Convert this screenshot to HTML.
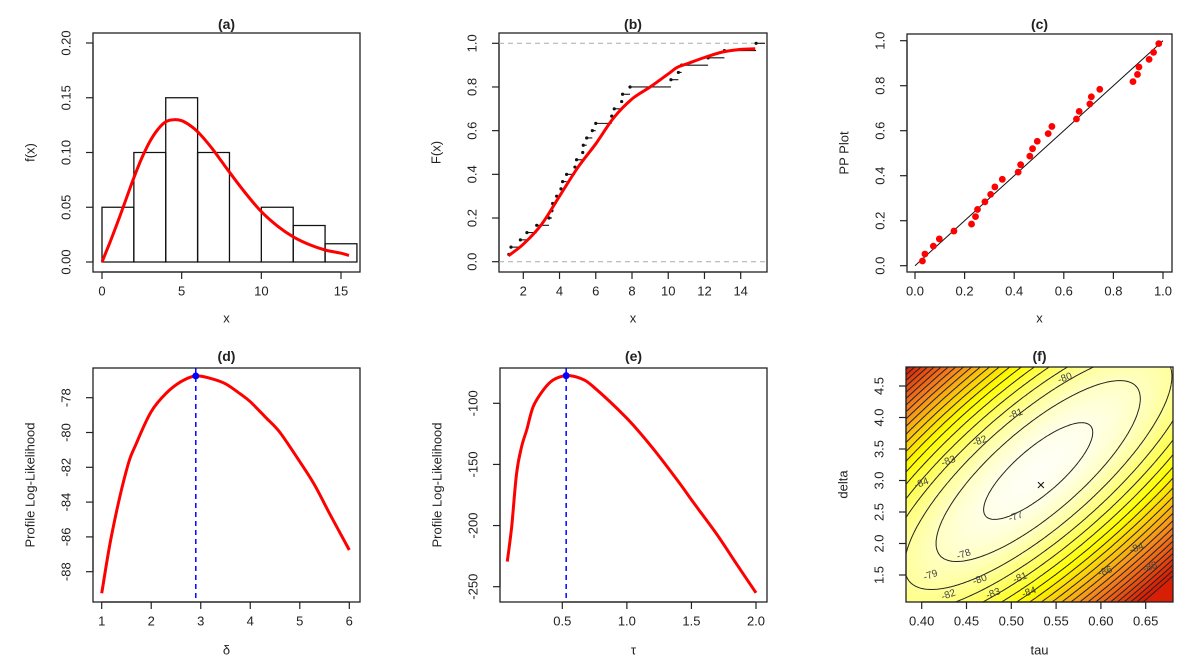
<!DOCTYPE html>
<html><head><meta charset="utf-8">
<style>
body{margin:0;background:#fff;width:1198px;height:669px;overflow:hidden;position:relative;font-family:"Liberation Sans",sans-serif;}
#heat{position:absolute;left:906px;top:367px;}
#chart{position:absolute;left:0;top:0;}
</style></head>
<body>
<canvas id="heat" width="267" height="235"></canvas>
<svg id="chart" width="1198" height="669"></svg>
<script>
// ---- data (a)
const histEdges=[0,2,4,6,8,10,12,14,16];
const histDens=[0.05,0.10,0.15,0.10,0,0.05,0.0333,0.0167];
const pdfX=[0,0.5,1,1.5,2,2.5,3,3.5,4,4.5,5,5.5,6,6.5,7,7.5,8,9,10,11,12,13,14,15,15.5];
const pdfY=[0,0.018,0.037,0.057,0.077,0.095,0.11,0.121,0.128,0.13,0.129,0.125,0.119,0.111,0.102,0.092,0.082,0.063,0.046,0.033,0.023,0.016,0.011,0.008,0.006];
// ---- data (b)
const ecdfX=[1.2,1.32,1.84,2.2,2.74,3.42,3.58,3.62,3.84,4.08,4.17,4.39,4.85,4.94,5.28,5.31,5.5,5.81,6.0,6.88,7.02,7.43,7.48,7.89,10.15,10.56,10.74,12.2,13.1,14.85];
const cdfX=[1.17,2,3,4,5,6,7,8,9,10,10.5,11,12,13,14,14.8];
const cdfY=[0.027,0.08,0.17,0.3,0.43,0.54,0.66,0.745,0.8,0.86,0.89,0.905,0.935,0.96,0.972,0.975];
// ---- data (c)
const ppX=[.03,.04,.074,.098,.157,.228,.244,.252,.282,.305,.322,.352,.416,.426,.463,.474,.493,.537,.552,.651,.662,.705,.711,.745,.879,.897,.903,.944,.962,.983];
const ppY=[.021,.052,.087,.119,.154,.185,.218,.25,.284,.317,.35,.384,.416,.449,.487,.52,.553,.587,.619,.652,.686,.719,.751,.784,.818,.85,.883,.917,.948,.987];
// ---- data (d)
const dX=[1,1.2,1.5,1.7,2,2.3,2.6,2.9,3.2,3.5,3.8,4,4.3,4.6,5,5.3,5.6,6];
const dY=[-89.24,-85.9,-82.16,-80.62,-78.8,-77.75,-77.08,-76.75,-76.89,-77.2,-77.79,-78.23,-79.1,-80.0,-81.68,-83.02,-84.65,-86.75];
const dMax=[2.9,-76.75];
// ---- data (e)
const eX=[0.074,0.108,0.146,0.185,0.224,0.275,0.353,0.43,0.526,0.637,0.74,1.0,1.18,1.39,1.52,1.70,1.855,2.0];
const eY=[-229.5,-200.9,-157.3,-135.5,-121.8,-102.7,-89.1,-80.9,-77.4,-79.5,-86.4,-112.3,-134,-162.7,-181.8,-207.7,-232.3,-255];
const eMax=[0.53,-77.4];
// ---- data (f)
const surfCenter=[0.53,3.15];
const surfScale=[0.05,0.5];
const surfCoef=[-76.6,0.115,1.1];
const contourLevels=[-77,-78,-79,-80,-81,-82,-83,-84,-85,-86,-87,-88,-89,-90,-91,-92,-93,-94,-95,-96,-97,-98];
const fLabelVals=['-77','-78','-79','-80','-81','-82','-83','-84','-80','-81','-82','-83','-84','-84','-86','-88'];
const fLabelTau=[0.505,0.447,0.41,0.465,0.51,0.43,0.48,0.52,0.56,0.505,0.465,0.43,0.4,0.64,0.605,0.655];
const fLabelDelta=[2.42,1.82,1.49,1.42,1.45,1.18,1.2,1.22,4.62,4.05,3.62,3.3,2.95,1.92,1.55,1.62];
const fMle=[0.533,2.92];

const NS='http://www.w3.org/2000/svg';
const svg=document.getElementById('chart');
function mk(tag,attrs,parent){const e=document.createElementNS(NS,tag);for(const k in attrs)e.setAttribute(k,attrs[k]);(parent||svg).appendChild(e);return e;}
function lin(d0,d1,p0,p1){return v=>p0+(v-d0)*(p1-p0)/(d1-d0);}
function txt(x,y,s,attrs,name){const t=mk('text',Object.assign({x:x,y:y,'font-family':'Liberation Sans, sans-serif','fill':'#222'},attrs));t.textContent=s;


return t;}

function panel(p){
  const g=mk('g',{});
  
  
  p.g=g;
  const box=mk('rect',{x:p.l,y:p.t,width:p.r-p.l,height:p.b-p.t,fill:'none',stroke:'#222','stroke-width':1.3},g);
  
  
  const xs=p.xs, ys=p.ys;
  const xa=mk('line',{x1:xs(p.xt[0]),x2:xs(p.xt[p.xt.length-1]),y1:p.b,y2:p.b,stroke:'#222','stroke-width':1.2},g);
  
  
  p.xt.forEach((v,i)=>{
    const tk=mk('line',{x1:xs(v),x2:xs(v),y1:p.b,y2:p.b+7,stroke:'#222','stroke-width':1.2},g);
    
    
    const t=txt(xs(v),p.b+19,p.xl[i],{'font-size':13,'text-anchor':'middle','dominant-baseline':'central'},'x-tick-label');
    g.appendChild(t);
  });
  const ya=mk('line',{x1:p.l,x2:p.l,y1:ys(p.yt[0]),y2:ys(p.yt[p.yt.length-1]),stroke:'#222','stroke-width':1.2},g);
  
  
  p.yt.forEach((v,i)=>{
    const tk=mk('line',{x1:p.l-7,x2:p.l,y1:ys(v),y2:ys(v),stroke:'#222','stroke-width':1.2},g);
    
    
    const cx=p.l-27, cy=ys(v);
    const t=txt(cx,cy,p.yl[i],{'font-size':13,'text-anchor':'middle','dominant-baseline':'central',transform:`rotate(-90 ${cx} ${cy})`},'y-tick-label');
    g.appendChild(t);
  });
  const ty=p.t<100?24:356;
  g.appendChild(txt((p.l+p.r)/2,ty,p.title,{'font-size':14,'font-weight':'bold','text-anchor':'middle','dominant-baseline':'central'},'panel-title'));
  const xy=p.t<100?318:650;
  g.appendChild(txt((p.l+p.r)/2,xy,p.xlab,{'font-size':13,'text-anchor':'middle','dominant-baseline':'central'},'x-axis-title'));
  const lx=p.l-63, ly=(p.t+p.b)/2;
  g.appendChild(txt(lx,ly,p.ylab,{'font-size':13,'text-anchor':'middle','dominant-baseline':'central',transform:`rotate(-90 ${lx} ${ly})`},'y-axis-title'));
  return g;
}
function poly(g,X,Y,xs,ys,attrs,name){
  const P=X.map((x,i)=>[xs(x),ys(Y[i])]);
  let d=`M${P[0][0].toFixed(1)},${P[0][1].toFixed(1)}`;
  for(let i=0;i<P.length-1;i++){
    const p0=P[Math.max(0,i-1)],p1=P[i],p2=P[i+1],p3=P[Math.min(P.length-1,i+2)];
    const c1=[p1[0]+(p2[0]-p0[0])/6,p1[1]+(p2[1]-p0[1])/6];
    const c2=[p2[0]-(p3[0]-p1[0])/6,p2[1]-(p3[1]-p1[1])/6];
    d+=`C${c1[0].toFixed(1)},${c1[1].toFixed(1)} ${c2[0].toFixed(1)},${c2[1].toFixed(1)} ${p2[0].toFixed(1)},${p2[1].toFixed(1)}`;
  }
  const pl=mk('path',Object.assign({d:d,fill:'none'},attrs),g);
  
  
  return pl;
}

// ---- panel (a)
const pa={id:'a',l:93,r:360,t:33,b:272,xs:lin(0,15,102,341),ys:lin(0,0.2,262,43),
  xt:[0,5,10,15],xl:['0','5','10','15'],yt:[0,0.05,0.1,0.15,0.2],yl:['0.00','0.05','0.10','0.15','0.20'],
  title:'(a)',xlab:'x',ylab:'f(x)'};
panel(pa);
histDens.forEach((d,i)=>{
  const x0=pa.xs(histEdges[i]),x1=pa.xs(histEdges[i+1]),y0=pa.ys(0),y1=pa.ys(d);
  const b=mk('path',{d:`M${x0},${y0}V${y1}H${x1}V${y0}Z`,fill:'none',stroke:'#111','stroke-width':1.3},pa.g);
  
  
});
poly(pa.g,pdfX,pdfY,pa.xs,pa.ys,{stroke:'#f00','stroke-width':3,'stroke-linejoin':'round'},'density-curve');

// ---- panel (b)
const pb={id:'b',l:499,r:767,t:33,b:272,xs:lin(2,14,523.3,740.7),ys:lin(0,1,261.7,43.3),
  xt:[2,4,6,8,10,12,14],xl:['2','4','6','8','10','12','14'],yt:[0,0.2,0.4,0.6,0.8,1],yl:['0.0','0.2','0.4','0.6','0.8','1.0'],
  title:'(b)',xlab:'x',ylab:'F(x)'};
panel(pb);
[0,1].forEach(v=>{
  const l=mk('line',{x1:pb.l,x2:pb.r,y1:pb.ys(v),y2:pb.ys(v),stroke:'#aaa','stroke-dasharray':'5,4','stroke-width':1},pb.g);
  
  
});
const nE=ecdfX.length;
ecdfX.forEach((x,i)=>{
  const lv=(i+1)/nE;
  const xe=i<nE-1?pb.xs(ecdfX[i+1]):pb.r-2;
  const s=mk('line',{x1:pb.xs(x),x2:xe,y1:pb.ys(lv),y2:pb.ys(lv),stroke:'#111','stroke-width':1.1},pb.g);
  
  
  const c=mk('circle',{cx:pb.xs(x),cy:pb.ys(lv),r:1.6,fill:'#111'},pb.g);
  
  
});
poly(pb.g,cdfX,cdfY,pb.xs,pb.ys,{stroke:'#f00','stroke-width':3,'stroke-linejoin':'round'},'cdf-curve');

// ---- panel (c)
const pc={id:'c',l:907,r:1172,t:34,b:272,xs:lin(0,1,915,1163),ys:lin(0,1,265.7,40.7),
  xt:[0,0.2,0.4,0.6,0.8,1],xl:['0.0','0.2','0.4','0.6','0.8','1.0'],yt:[0,0.2,0.4,0.6,0.8,1],yl:['0.0','0.2','0.4','0.6','0.8','1.0'],
  title:'(c)',xlab:'x',ylab:'PP Plot'};
panel(pc);
const diag=mk('line',{x1:pc.xs(0),y1:pc.ys(0),x2:pc.xs(1),y2:pc.ys(1),stroke:'#111','stroke-width':1},pc.g);


ppX.forEach((x,i)=>{
  const c=mk('circle',{cx:pc.xs(x),cy:pc.ys(ppY[i]),r:3.4,fill:'#f00'},pc.g);
  
  
});

// ---- panel (d)
const pd={id:'d',l:93,r:360,t:368,b:602,xs:lin(1,6,101.7,349.3),ys:lin(-78,-88,397.7,571.7),
  xt:[1,2,3,4,5,6],xl:['1','2','3','4','5','6'],yt:[-78,-80,-82,-84,-86,-88],yl:['-78','-80','-82','-84','-86','-88'],
  title:'(d)',xlab:'δ',ylab:'Profile Log-Likelihood'};
panel(pd);
poly(pd.g,dX,dY,pd.xs,pd.ys,{stroke:'#f00','stroke-width':3,'stroke-linejoin':'round'},'profile-curve');
const dv=mk('line',{x1:pd.xs(dMax[0]),x2:pd.xs(dMax[0]),y1:pd.t,y2:pd.b,stroke:'#00f','stroke-width':1.5,'stroke-dasharray':'5,4'},pd.g);


const dp=mk('circle',{cx:pd.xs(dMax[0]),cy:pd.ys(dMax[1]),r:3.5,fill:'#00f'},pd.g);



// ---- panel (e)
const pe={id:'e',l:500,r:767,t:368,b:602,xs:lin(0.5,2,562.3,756),ys:lin(-100,-250,403.3,586.7),
  xt:[0.5,1,1.5,2],xl:['0.5','1.0','1.5','2.0'],yt:[-100,-150,-200,-250],yl:['-100','-150','-200','-250'],
  title:'(e)',xlab:'τ',ylab:'Profile Log-Likelihood'};
panel(pe);
poly(pe.g,eX,eY,pe.xs,pe.ys,{stroke:'#f00','stroke-width':3,'stroke-linejoin':'round'},'profile-curve');
const ev=mk('line',{x1:pe.xs(eMax[0]),x2:pe.xs(eMax[0]),y1:pe.t,y2:pe.b,stroke:'#00f','stroke-width':1.5,'stroke-dasharray':'5,4'},pe.g);


const ep=mk('circle',{cx:pe.xs(eMax[0]),cy:pe.ys(eMax[1]),r:3.5,fill:'#00f'},pe.g);



// ---- panel (f)
const pf={id:'f',l:906,r:1173,t:367,b:602,xs:lin(0.4,0.65,921.7,1145.7),ys:lin(4.5,1.5,386,575),
  xt:[0.4,0.45,0.5,0.55,0.6,0.65],xl:['0.40','0.45','0.50','0.55','0.60','0.65'],yt:[1.5,2,2.5,3,3.5,4,4.5],yl:['1.5','2.0','2.5','3.0','3.5','4.0','4.5'],
  title:'(f)',xlab:'tau',ylab:'delta'};
function pxToTau(px){return 0.4+(px-921.7)*0.25/224;}
function pyToDelta(py){return 4.5-(py-386)*3/189;}
function surf(tau,delta){
  const u=(tau-surfCenter[0])/surfScale[0], v=(delta-surfCenter[1])/surfScale[1];
  const s=0.6*u+0.8*v, t=-0.8*u+0.6*v;
  return surfCoef[0]-(surfCoef[1]*s*s+surfCoef[2]*t*t);
}
(function(){
  const cv=document.getElementById('heat'),ctx=cv.getContext('2d');
  const W=cv.width,H=cv.height,img=ctx.createImageData(W,H);
  const stops=[[0,[216,30,5]],[0.35,[245,130,30]],[0.68,[255,255,0]],[0.86,[255,255,140]],[1,[255,255,245]]];
  const vmin=-97,vmax=surfCoef[0];
  for(let j=0;j<H;j++)for(let i=0;i<W;i++){
    const v=surf(pxToTau(pf.l+i+0.5),pyToDelta(pf.t+j+0.5));
    let t=Math.max(0,Math.min(1,(v-vmin)/(vmax-vmin)));
    let k=0;while(k<stops.length-2&&t>stops[k+1][0])k++;
    const a=stops[k],b=stops[k+1],f=(t-a[0])/(b[0]-a[0]);
    const o=(j*W+i)*4;
    for(let c=0;c<3;c++)img.data[o+c]=a[1][c]+(b[1][c]-a[1][c])*f;
    img.data[o+3]=255;
  }
  ctx.putImageData(img,0,0);
})();
panel(pf);
(function(){
  const NX=140,NY=120,grid=[];
  for(let j=0;j<=NY;j++){grid.push([]);for(let i=0;i<=NX;i++){
    const px=pf.l+i*(pf.r-pf.l)/NX,py=pf.t+j*(pf.b-pf.t)/NY;grid[j].push([px,py,surf(pxToTau(px),pyToDelta(py))]);}}
  contourLevels.forEach(L=>{
    let d='';
    const ip=(a,b)=>{const f=(L-a[2])/(b[2]-a[2]);return [a[0]+f*(b[0]-a[0]),a[1]+f*(b[1]-a[1])];};
    for(let j=0;j<NY;j++)for(let i=0;i<NX;i++){
      const c=[grid[j][i],grid[j][i+1],grid[j+1][i+1],grid[j+1][i]];
      const pts=[];
      for(let k=0;k<4;k++){const a=c[k],b=c[(k+1)%4];if((a[2]>L)!==(b[2]>L))pts.push(ip(a,b));}
      for(let k=0;k+1<pts.length;k+=2)d+=`M${pts[k][0].toFixed(1)},${pts[k][1].toFixed(1)}L${pts[k+1][0].toFixed(1)},${pts[k+1][1].toFixed(1)}`;
    }
    if(d){const p=mk('path',{d:d,fill:'none',stroke:'#222','stroke-width':1},pf.g);
      
      }
  });
  fLabelVals.forEach((s,i)=>{
    const x=pf.xs(fLabelTau[i]),y=pf.ys(fLabelDelta[i]);
    pf.g.appendChild(txt(x,y,s,{'font-size':10,'text-anchor':'middle','dominant-baseline':'central',fill:'#444',transform:`rotate(-20 ${x} ${y})`},'contour-label'));
  });
  const m=txt(pf.xs(fMle[0]),pf.ys(fMle[1]),'×',{'font-size':15,'text-anchor':'middle','dominant-baseline':'central',fill:'#111'},'mle-marker');
  pf.g.appendChild(m);
})();
</script>
</body></html>
